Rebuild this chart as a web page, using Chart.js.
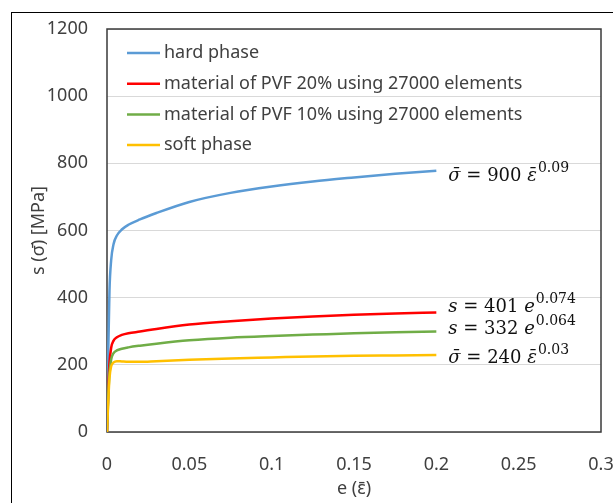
<!DOCTYPE html>
<html>
<head>
<meta charset="utf-8">
<script src="https://cdn.jsdelivr.net/npm/chart.js@4.4.0/dist/chart.umd.min.js"></script>
<style>
  html, body { margin: 0; padding: 0; background: #fff; }
</style>
</head>
<body>
<canvas id="chart" width="613" height="503"></canvas>
<script>
// strain values shared by all four curves
const strain = [0, 0.0008, 0.0015, 0.0025, 0.004, 0.006, 0.009, 0.013, 0.02, 0.03, 0.05, 0.075, 0.1, 0.125, 0.15, 0.175, 0.2];
const hardPhase = [0, 250, 420, 510, 560, 585, 603, 617, 633, 652, 685, 712, 731, 746, 758, 769, 778];
const pvf20 = [0, 130, 205, 250, 272, 282, 289, 294, 299, 307, 320, 330, 338, 344, 349, 353, 356];
const pvf10 = [0, 110, 175, 215, 235, 243, 248, 252, 257, 263, 273, 281, 286, 290, 294, 297, 299];
const softPhase = [0, 95, 160, 195, 207, 211, 210, 209, 209, 211, 215, 219, 222, 225, 227, 228, 229];

const seriesLabels = ['hard phase', 'material of PVF 20% using 27000 elements', 'material of PVF 10% using 27000 elements', 'soft phase'];
const seriesColors = ['#5B9BD5', '#FF0000', '#70AD47', '#FFC000'];

const xTickValues = [0, 0.05, 0.1, 0.15, 0.2, 0.25, 0.3];
const xTickLabels = ['0', '0.05', '0.1', '0.15', '0.2', '0.25', '0.3'];
const yTickLabels = ['0', '200', '400', '600', '800', '1000', '1200'];

// fitted-law labels at the end of each curve
const lawLhs = ['σ̄', 's', 's', 'σ̄'];
const lawCoef = ['900', '401', '332', '240'];
const lawVar = ['ε̄', 'e', 'e', 'ε̄'];
const lawExp = ['0.09', '0.074', '0.064', '0.03'];
const lawDy = [6, -5, -2, 3];

const textColor = '#404040';
const font = { family: '"Noto Sans", sans-serif', size: 18 };

const toPoints = ys => ys.map((y, i) => ({ x: strain[i], y: y }));
const allSeries = [hardPhase, pvf20, pvf10, softPhase];

const frame = {
  id: 'frame',
  beforeDraw(chart) {
    const ctx = chart.ctx;
    ctx.save();
    ctx.fillStyle = '#fff';
    ctx.fillRect(0, 0, chart.width, chart.height);
    ctx.strokeStyle = '#000';
    ctx.lineWidth = 1;
    ctx.strokeRect(11.5, 12.5, 900, 900);
    ctx.restore();
  },
  beforeDatasetsDraw(chart) {
    const { ctx, chartArea: a } = chart;
    ctx.save();
    ctx.strokeStyle = '#3a3a3a';
    ctx.lineWidth = 1.5;
    ctx.strokeRect(a.left, a.top, a.right - a.left, a.bottom - a.top);
    ctx.restore();
  },
  afterDatasetsDraw(chart) {
    const { ctx, chartArea: a, scales } = chart;
    ctx.save();
    // legend
    ctx.font = `${font.size}px ${font.family}`;
    ctx.textBaseline = 'middle';
    seriesLabels.forEach((lab, i) => {
      const y = a.top + 24 + i * 30.7;
      ctx.strokeStyle = seriesColors[i];
      ctx.lineWidth = 2.5;
      ctx.beginPath();
      ctx.moveTo(a.left + 20, y);
      ctx.lineTo(a.left + 53, y);
      ctx.stroke();
      ctx.fillStyle = textColor;
      ctx.fillText(lab, a.left + 57, y);
    });
    // law labels
    ctx.fillStyle = '#111';
    ctx.textBaseline = 'middle';
    allSeries.forEach((ys, i) => {
      let x = scales.x.getPixelForValue(strain[strain.length - 1]) + 12;
      const y = scales.y.getPixelForValue(ys[ys.length - 1]) + lawDy[i];
      ctx.font = 'italic 18px "DejaVu Serif"';
      ctx.fillText(lawLhs[i], x, y);
      x += ctx.measureText(lawLhs[i]).width;
      ctx.font = '18px "DejaVu Serif"';
      const mid = ' = ' + lawCoef[i] + ' ';
      ctx.fillText(mid, x, y);
      x += ctx.measureText(mid).width;
      ctx.font = 'italic 18px "DejaVu Serif"';
      ctx.fillText(lawVar[i], x, y);
      x += ctx.measureText(lawVar[i]).width + 1;
      ctx.font = '14px "DejaVu Serif"';
      ctx.fillText(lawExp[i], x, y - 8);
    });
    ctx.restore();
  }
};

new Chart(document.getElementById('chart'), {
  type: 'scatter',
  data: {
    datasets: allSeries.map((ys, i) => ({
      label: seriesLabels[i],
      data: toPoints(ys),
      showLine: true,
      borderColor: seriesColors[i],
      backgroundColor: seriesColors[i],
      borderWidth: 2.5,
      pointRadius: 0,
      cubicInterpolationMode: 'monotone',
      order: 3 - i
    }))
  },
  options: {
    responsive: false,
    animation: false,
    layout: { padding: { left: 0, right: 0, top: 29, bottom: 0 } },
    plugins: { legend: { display: false }, tooltip: { enabled: false } },
    scales: {
      x: {
        type: 'linear',
        min: 0,
        max: 0.3,
        afterBuildTicks: s => { s.ticks = xTickValues.map(v => ({ value: v })); },
        afterFit: s => { s.height = 71; s.paddingLeft = 0; s.paddingRight = 12; },
        ticks: {
          callback: (v, i) => xTickLabels[i],
          color: textColor,
          font: font,
          padding: 22,
          maxRotation: 0,
          autoSkip: false
        },
        grid: { display: false, drawTicks: false },
        border: { display: false },
        title: { display: true, text: 'e (ε̄)', color: textColor, font: font, padding: { top: 0, bottom: 3 } }
      },
      y: {
        min: 0,
        max: 1200,
        afterFit: s => { s.width = 107; s.paddingTop = 0; s.paddingBottom = 0; },
        ticks: { stepSize: 200, callback: (v, i) => yTickLabels[i], color: textColor, font: font, padding: 19 },
        grid: { color: '#d9d9d9', lineWidth: 1, drawTicks: false },
        border: { display: false },
        title: { display: true, text: 's (σ̄) [MPa]', color: textColor, font: font, padding: { top: 28, bottom: 0 } }
      }
    }
  },
  plugins: [frame]
});
</script>
</body>
</html>
